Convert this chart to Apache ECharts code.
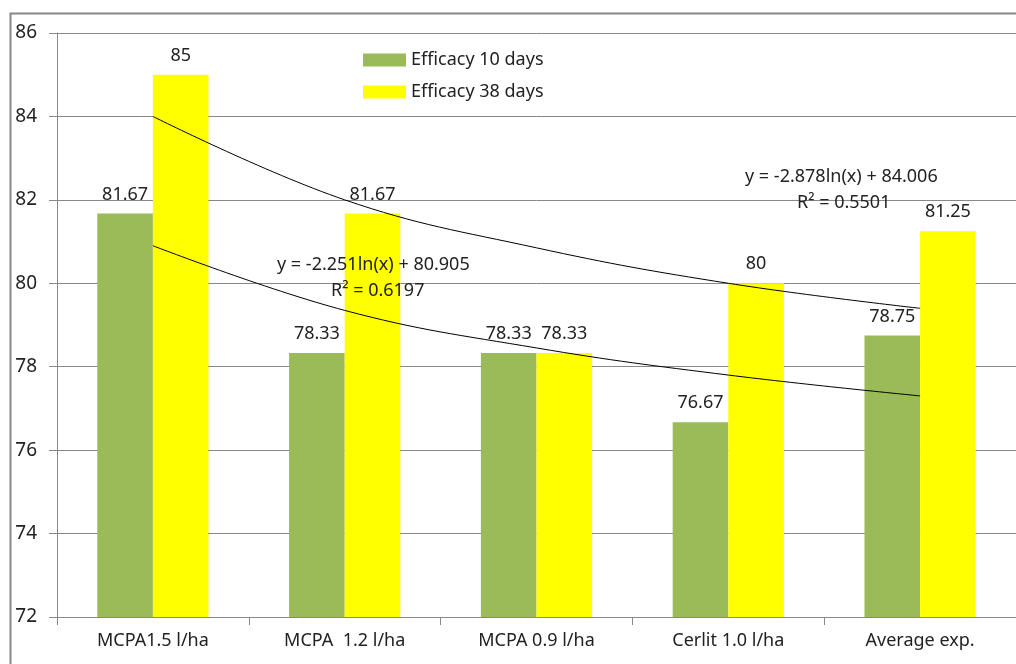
<!DOCTYPE html>
<html>
<head>
<meta charset="utf-8" />
<title>Efficacy</title>
<script src="https://cdn.jsdelivr.net/npm/echarts@6/dist/echarts.min.js"></script>
<style>
  html, body { margin: 0; padding: 0; background: #fff; }
  #main { width: 1016px; height: 664px; }
</style>
</head>
<body>
<div id="main"></div>
<script>
// categories and values
var categories = ['MCPA1.5 l/ha', 'MCPA  1.2 l/ha', 'MCPA 0.9 l/ha', 'Cerlit 1.0 l/ha', 'Average exp.'];
var eff10 = [81.67, 78.33, 78.33, 76.67, 78.75];
var eff38 = [85, 81.67, 78.33, 80, 81.25];
// log trend lines, read at each category
var trend38 = [84.0, 82.0, 80.85, 80.0, 79.4];
var trend10 = [80.9, 79.35, 78.45, 77.8, 77.3];
var yTicks = [72, 74, 76, 78, 80, 82, 84, 86];

var font = 'Noto Sans';
var chart = echarts.init(document.getElementById('main'));

chart.setOption({
  animation: false,
  textStyle: { fontFamily: font },
  grid: { left: 57, top: 33, width: 963, height: 584 },
  legend: {
    orient: 'vertical',
    left: 358, top: 46,
    itemWidth: 43, itemHeight: 13, itemGap: 14,
    icon: 'rect',
    data: ['Efficacy 10 days', 'Efficacy 38 days'],
    textStyle: { fontSize: 18, color: '#222', fontFamily: font }
  },
  xAxis: {
    type: 'category',
    data: categories,
    axisLine: { lineStyle: { color: '#888', width: 1 } },
    axisTick: { show: true, length: 8, lineStyle: { color: '#888' } },
    axisLabel: { fontSize: 18, color: '#222', margin: 15 }
  },
  yAxis: {
    type: 'value',
    min: yTicks[0], max: yTicks[yTicks.length - 1], interval: 2,
    axisLine: { show: true, lineStyle: { color: '#888', width: 1 } },
    axisTick: { show: true, length: 8, lineStyle: { color: '#888' } },
    splitLine: { lineStyle: { color: '#888', width: 1 } },
    axisLabel: { fontSize: 19, color: '#222', margin: 20 }
  },
  series: [
    {
      name: 'Efficacy 10 days', type: 'bar', data: eff10,
      barGap: '0%', barCategoryGap: '42%',
      itemStyle: { color: '#9BBB59' },
      label: { show: true, position: 'top', fontSize: 18, color: '#222', distance: 10 }
    },
    {
      name: 'Efficacy 38 days', type: 'bar', data: eff38,
      itemStyle: { color: '#FFFF00' },
      label: { show: true, position: 'top', fontSize: 18, color: '#222', distance: 10 }
    },
    {
      name: 'trend38', type: 'line', data: trend38, smooth: 0.4,
      symbol: 'none', lineStyle: { color: '#000', width: 1 }, z: 5
    },
    {
      name: 'trend10', type: 'line', data: trend10, smooth: 0.4,
      symbol: 'none', lineStyle: { color: '#000', width: 1 }, z: 5
    }
  ],
  graphic: [
    {
      type: 'rect', left: 8, top: 11, z: -1, silent: true,
      shape: { width: 1030, height: 700 },
      style: { fill: 'none', stroke: '#888', lineWidth: 2 }
    },
    {
      type: 'text', left: 745, top: 168, z: 10,
      style: { text: 'y = -2.878ln(x) + 84.006', fontSize: 18, fill: '#222', fontFamily: font }
    },
    {
      type: 'text', left: 797, top: 194, z: 10,
      style: { text: 'R² = 0.5501', fontSize: 18, fill: '#222', fontFamily: font }
    },
    {
      type: 'text', left: 277, top: 256, z: 10,
      style: { text: 'y = -2.251ln(x) + 80.905', fontSize: 18, fill: '#222', fontFamily: font }
    },
    {
      type: 'text', left: 331, top: 282, z: 10,
      style: { text: 'R² = 0.6197', fontSize: 18, fill: '#222', fontFamily: font }
    }
  ]
});
</script>
</body>
</html>
